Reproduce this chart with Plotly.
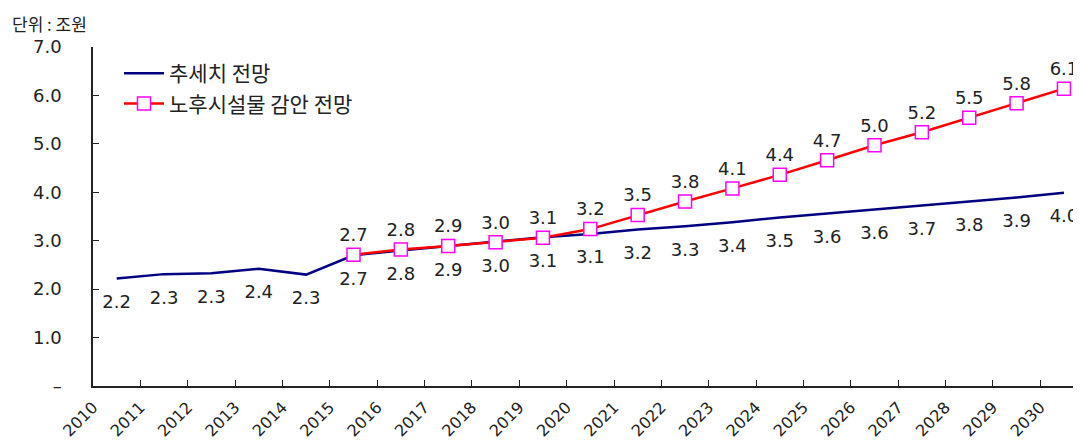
import plotly.graph_objects as go

years = [str(y) for y in range(2010, 2031)]
trend = [2.22, 2.31, 2.33, 2.42, 2.30, 2.70, 2.80, 2.89, 2.97, 3.07, 3.14,
         3.23, 3.30, 3.38, 3.48, 3.56, 3.64, 3.73, 3.81, 3.89, 3.99]
reduced_years = [str(y) for y in range(2015, 2031)]
reduced = [2.71, 2.82, 2.89, 2.97, 3.06, 3.24, 3.53, 3.81, 4.08, 4.36,
           4.66, 4.97, 5.24, 5.54, 5.84, 6.14]
y_ticks = [0, 1, 2, 3, 4, 5, 6, 7]
y_ticktext = ["–", "1.0", "2.0", "3.0", "4.0", "5.0", "6.0", "7.0"]

x_trend = [years.index(y) for y in years]
x_reduced = [years.index(y) for y in reduced_years]
x_tickvals = [i - 0.5 for i in range(len(years))]

num_font = dict(family="DejaVu Sans", size=18, color="#222222")
kr_font = "Noto Sans CJK KR"

# page body has an 8px margin; figure is sized so that it ends at the window edge
W, H = 1073, 436
L, T, B = 85, 39, 58
pw = W - L
ph = H - T - B

fig = go.Figure()
fig.add_trace(go.Scatter(
    x=x_trend, y=trend, name="추세치 전망",
    mode="lines",
    line=dict(color="#000080", width=2.5),
))
fig.add_trace(go.Scatter(
    x=x_trend, y=trend, name="추세치 전망", showlegend=False,
    mode="markers+text", hoverinfo="skip",
    marker=dict(size=24, opacity=0),
    texttemplate="%{y:.1f}", textposition="bottom center",
    textfont=num_font, cliponaxis=False,
))
fig.add_trace(go.Scatter(
    x=x_reduced, y=reduced, name="노후시설물 감안 전망",
    mode="lines+markers+text",
    line=dict(color="#FF0000", width=2.5),
    marker=dict(symbol="square", size=13, color="white",
                line=dict(color="#FF00FF", width=1.5)),
    texttemplate="%{y:.1f}", textposition="top center",
    textfont=num_font, cliponaxis=False,
))

fig.update_layout(
    width=W, height=H,
    margin=dict(l=L, r=0, t=T, b=B, autoexpand=False),
    paper_bgcolor="white", plot_bgcolor="white",
    showlegend=True,
    legend=dict(x=(119 - 93) / pw, y=1 - (53 - 47) / ph, xanchor="left", yanchor="top",
                bgcolor="rgba(0,0,0,0)",
                font=dict(family=kr_font, size=21, color="#222222"),
                tracegroupgap=0, itemwidth=40),
    annotations=[dict(text="단위 : 조원", xref="paper", yref="paper",
                      x=-(L - 2) / pw, y=1 + (T - 0.5) / ph, xanchor="left", yanchor="top",
                      showarrow=False,
                      font=dict(family=kr_font, size=17, color="#222222"))],
)
fig.update_xaxes(
    range=[-0.5, 20.36], tickmode="array", tickvals=x_tickvals, ticktext=years,
    tickangle=-45, ticks="inside", ticklen=6, tickcolor="#222222",
    showline=True, linecolor="#222222", linewidth=1.5, showgrid=False, zeroline=False,
    ticklabelstandoff=4, automargin=False,
    tickfont=dict(family="DejaVu Sans", size=16, color="#222222"),
)
fig.update_yaxes(
    range=[0, 7], tickmode="array", tickvals=y_ticks, ticktext=y_ticktext,
    ticks="inside", ticklen=6, tickcolor="#222222",
    showline=True, linecolor="#222222", linewidth=1.5, showgrid=False, zeroline=False,
    ticklabelstandoff=26, automargin=False,
    tickfont=num_font,
)
fig.write_html("out.html")
